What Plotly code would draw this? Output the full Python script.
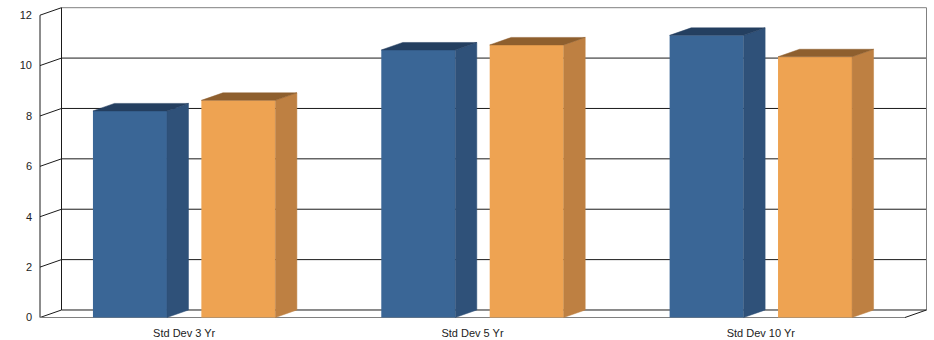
import plotly.graph_objects as go

# ---- data ----
categories = ["Std Dev 3 Yr", "Std Dev 5 Yr", "Std Dev 10 Yr"]
series_a = [8.20, 10.62, 11.20]   # blue
series_b = [8.62, 10.82, 10.35]   # orange
y_ticks = [0, 2, 4, 6, 8, 10, 12]

# ---- styling / geometry ----
blue = dict(front="#3A6696", side="#2F5179", top="#243F60")
orange = dict(front="#EEA352", side="#BE8042", top="#8E5F2E")
bar_w = 0.2567
bar_off = 0.188
dx = 0.0746   # depth in x units
dy = 0.298    # depth in y units
x_front_lo, x_front_hi = -0.5, 2.5
y_top = 12

fig = go.Figure()


def add_bar(i, val, off, col, name):
    xc = i + off
    x0, x1 = xc - bar_w / 2, xc + bar_w / 2
    fig.add_trace(go.Bar(x=[xc], y=[val], width=bar_w, marker=dict(color=col["front"], line=dict(width=0)),
                         showlegend=False, name=name))
    # side face
    fig.add_trace(go.Scatter(x=[x1, x1 + dx, x1 + dx, x1, x1], y=[0, dy, val + dy, val, 0],
                             fill="toself", fillcolor=col["side"], mode="lines",
                             line=dict(width=0.5, color=col["side"]), showlegend=False, hoverinfo="skip"))
    # top face
    fig.add_trace(go.Scatter(x=[x0, x0 + dx, x1 + dx, x1, x0], y=[val, val + dy, val + dy, val, val],
                             fill="toself", fillcolor=col["top"], mode="lines",
                             line=dict(width=0.5, color=col["top"]), showlegend=False, hoverinfo="skip"))


for i, cat in enumerate(categories):
    add_bar(i, series_a[i], -bar_off, blue, cat)
    add_bar(i, series_b[i], bar_off, orange, cat)

shapes = []


def line(x0, y0, x1, y1, color="#000000", w=1):
    shapes.append(dict(type="line", xref="x", yref="y", x0=x0, y0=y0, x1=x1, y1=y1,
                       line=dict(color=color, width=w), layer="below"))


# back-wall gridlines and diagonal ticks
for v in y_ticks:
    col = "#808080" if v == y_top else "#1a1a1a"
    line(x_front_lo + dx, v + dy, x_front_hi + dx, v + dy, col)
    line(x_front_lo, v, x_front_lo + dx, v + dy, "#1a1a1a")
# front vertical axis and back wall edges
line(x_front_lo, 0, x_front_lo, y_top, "#1a1a1a")
line(x_front_lo + dx, dy, x_front_lo + dx, y_top + dy, "#1a1a1a")
line(x_front_hi + dx, dy, x_front_hi + dx, y_top + dy, "#808080")
# floor
line(x_front_lo, 0, x_front_hi, 0, "#808080")
line(x_front_hi, 0, x_front_hi + dx, dy, "#1a1a1a")

# plot area pixel mapping
W, H = 934, 340
ml, mr, mt, mb = 36, 4, 4, 18
sx = 865 / 3.0          # px per x unit
sy = 302.3 / 12.0       # px per y unit
px_front_left = 40
px_zero = 317.5
x_lo = x_front_lo - (px_front_left - ml) / sx
x_hi = x_lo + (W - ml - mr) / sx
y_lo = -((H - mb) - px_zero) / sy
y_hi = y_lo + (H - mt - mb) / sy

fig.update_layout(
    width=W, height=H,
    margin=dict(l=ml, r=mr, t=mt, b=mb, autoexpand=False),
    plot_bgcolor="white", paper_bgcolor="white",
    barmode="overlay",
    shapes=shapes,
    font=dict(family="Liberation Sans, Arial, sans-serif", size=11, color="#222222"),
    xaxis=dict(range=[x_lo, x_hi], tickvals=list(range(len(categories))), ticktext=categories,
               showgrid=False, zeroline=False, showline=False, ticks="", ticklabelstandoff=3,
               automargin=False, fixedrange=True),
    yaxis=dict(range=[y_lo, y_hi], tickvals=y_ticks, ticktext=[str(v) for v in y_ticks],
               showgrid=False, zeroline=False, showline=False, ticks="", ticklabelstandoff=3,
               automargin=False, fixedrange=True),
)

fig.write_html("out.html", config={"displayModeBar": False},
               post_script="document.body.style.margin='0';document.body.style.overflow='hidden';")
